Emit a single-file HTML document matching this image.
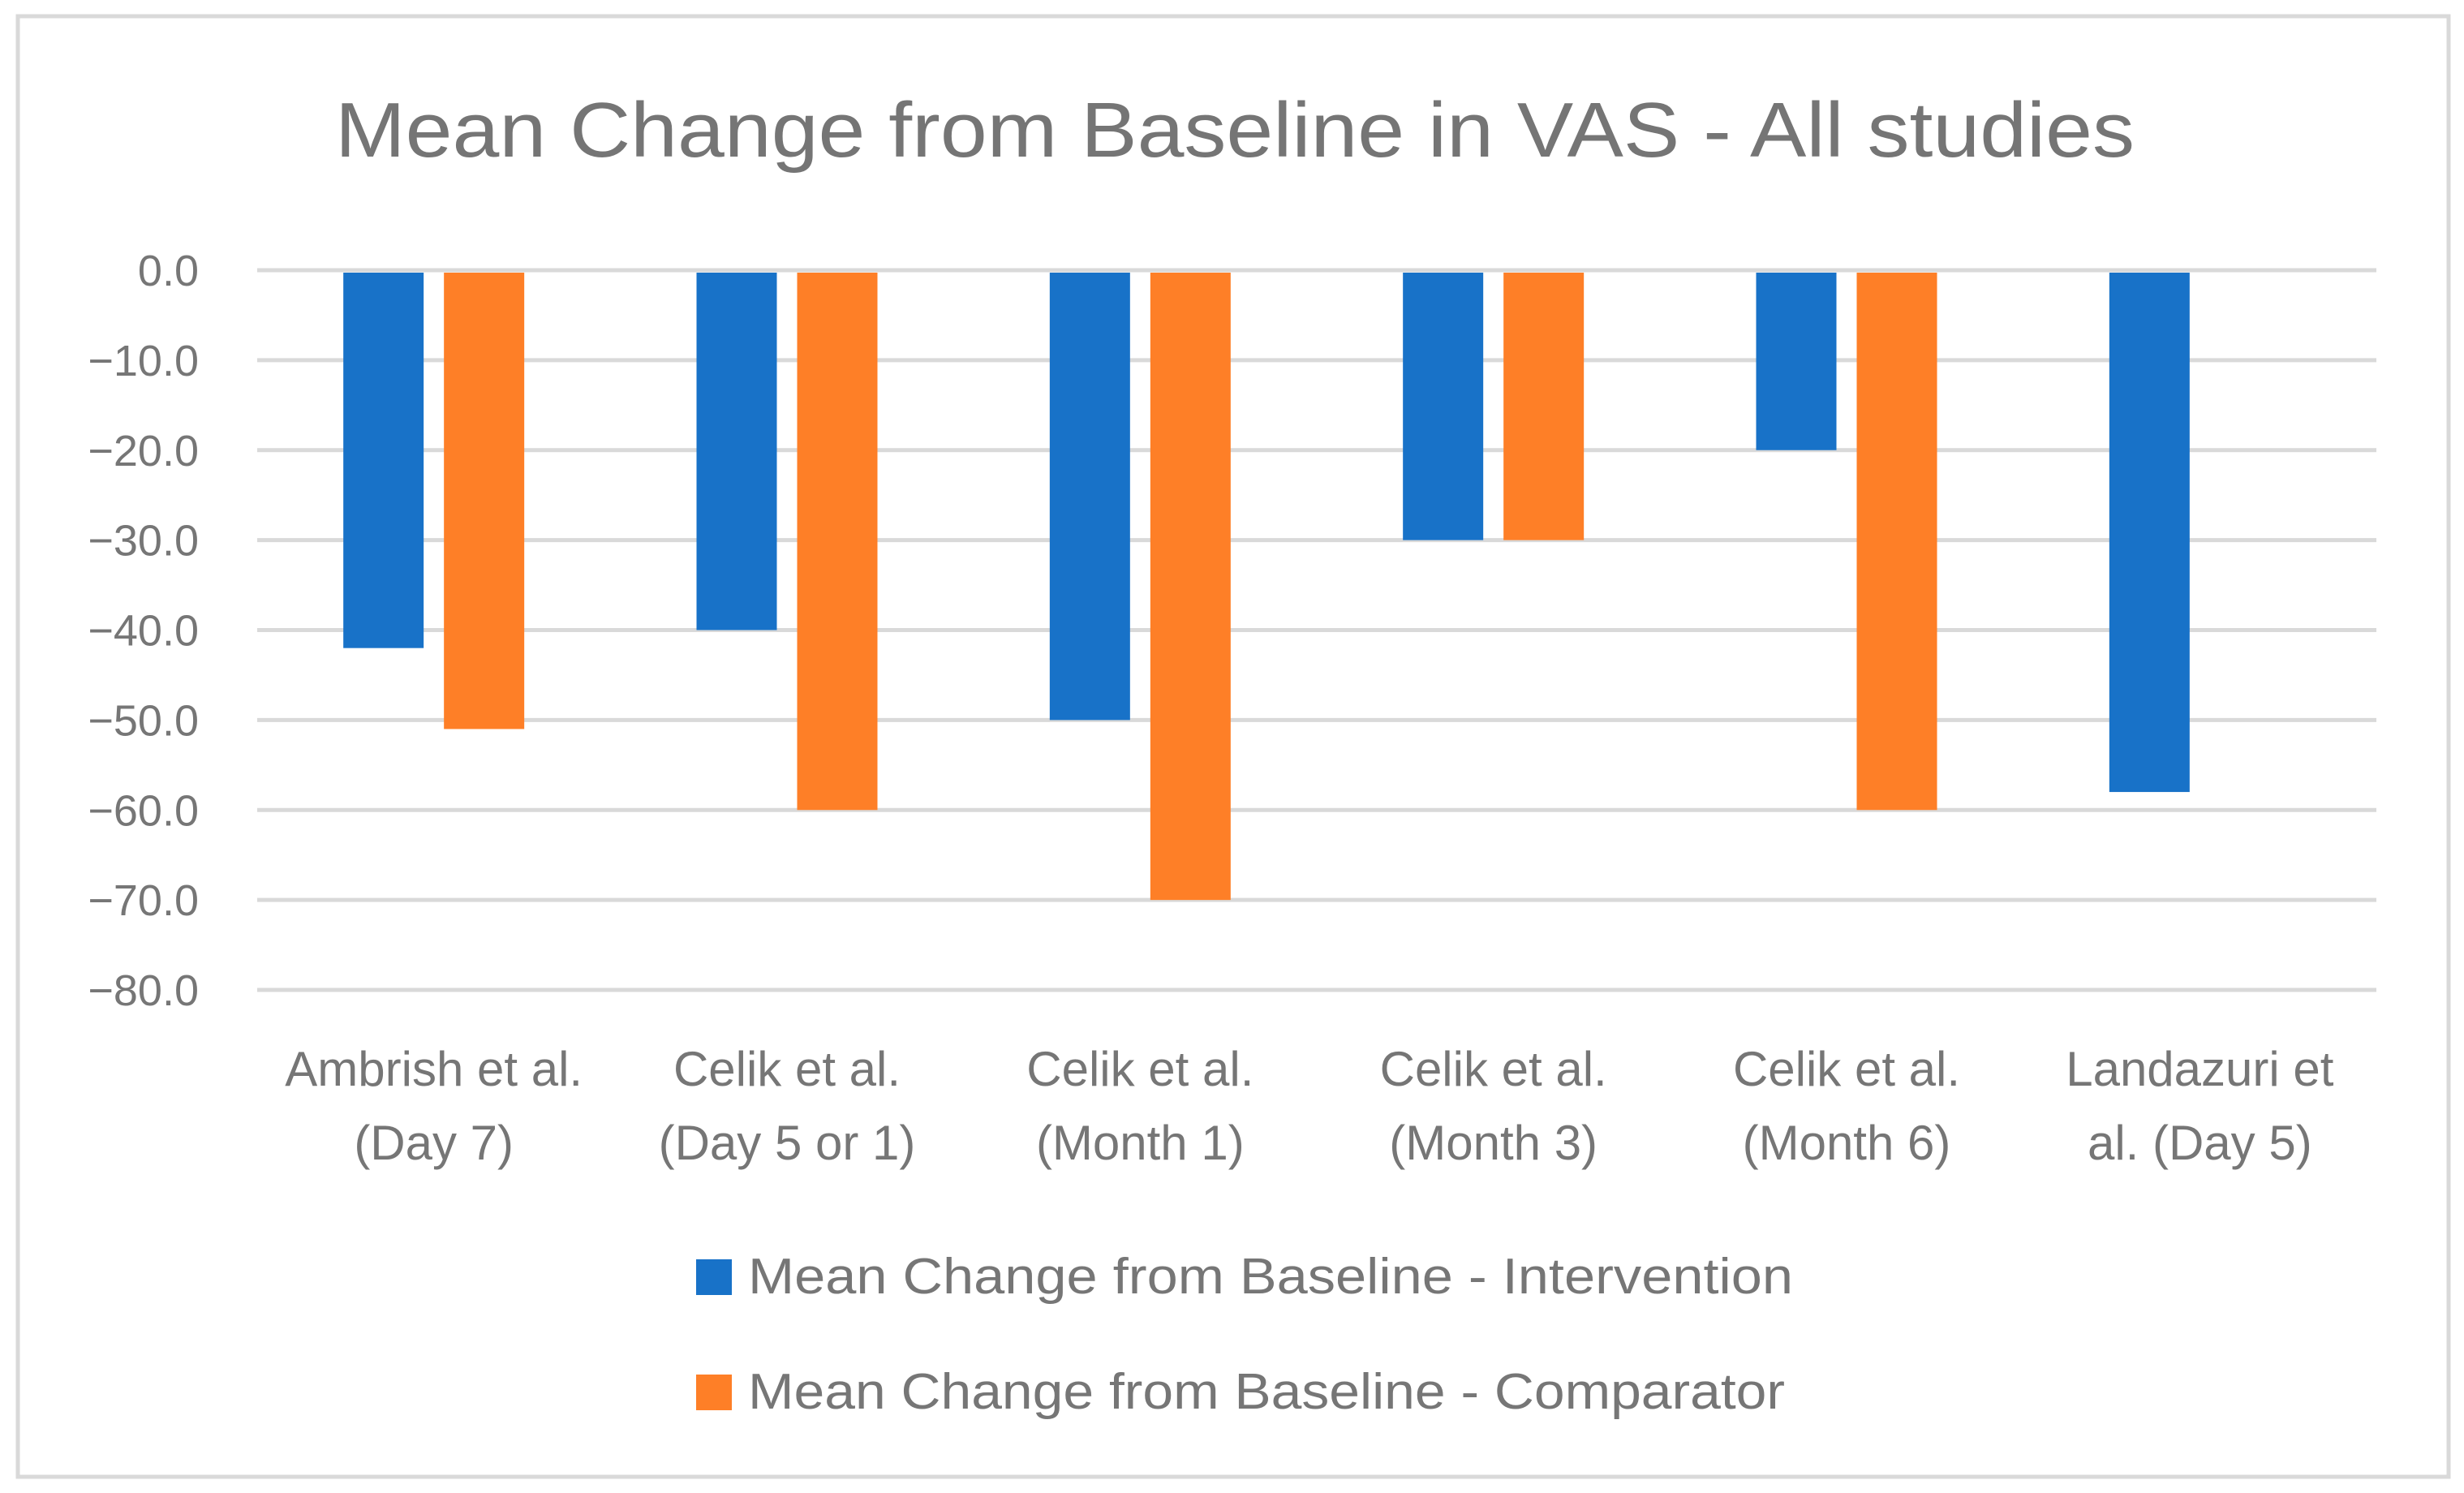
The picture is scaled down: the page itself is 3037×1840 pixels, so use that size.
<!DOCTYPE html>
<html><head><meta charset="utf-8"><style>
html,body{margin:0;padding:0;background:#fff}
svg{display:block;font-family:"Liberation Sans",sans-serif}
</style></head><body>
<svg id="chart" width="3037" height="1840" viewBox="0 0 3037 1840" xmlns="http://www.w3.org/2000/svg">
<rect x="22" y="20" width="2996" height="1800" fill="#fff" stroke="#d9d9d9" stroke-width="5"/>
<text x="1522" y="193" text-anchor="middle" font-size="96" fill="#757575" textLength="2218" lengthAdjust="spacingAndGlyphs">Mean Change from Baseline in VAS - All studies</text>
<g id="grid"></g><g id="bars"></g><g id="labels"></g>
<g>
<rect x="858" y="1552" width="44" height="44" fill="#1872c8"/>
<text x="922" y="1594" font-size="62" fill="#767676" textLength="1288" lengthAdjust="spacingAndGlyphs">Mean Change from Baseline - Intervention</text>
<rect x="858" y="1694" width="44" height="44" fill="#fe7f27"/>
<text x="922" y="1736" font-size="62" fill="#767676" textLength="1278" lengthAdjust="spacingAndGlyphs">Mean Change from Baseline - Comparator</text>
</g>
</svg>
<script>
const categoriesLine1 = ["Ambrish et al.","Celik et al.","Celik et al.","Celik et al.","Celik et al.","Landazuri et"];
const categoriesLine2 = ["(Day 7)","(Day 5 or 1)","(Month 1)","(Month 3)","(Month 6)","al. (Day 5)"];
const intervention = [-42,-40,-50,-30,-20,-58];
const comparator = [-51,-60,-70,-30,-60,null];
const yTicks = [0,-10,-20,-30,-40,-50,-60,-70,-80];

const NS="http://www.w3.org/2000/svg";
const plotL=317, plotR=2929, y0px=333, y80px=1220;
const yScale=v=>y0px+(v/-80)*(y80px-y0px);
const catW=(plotR-plotL)/categoriesLine1.length;
const xCenter=i=>plotL+catW*(i+0.5);
function mk(tag,attrs,parent){const e=document.createElementNS(NS,tag);for(const k in attrs)e.setAttribute(k,attrs[k]);parent.appendChild(e);return e;}
const grid=document.getElementById('grid'),bars=document.getElementById('bars'),labels=document.getElementById('labels');
yTicks.forEach(t=>{
  const y=yScale(t);
  const l=mk('line',{x1:plotL,x2:plotR,y1:y,y2:y,stroke:'#d9d9d9','stroke-width':5},grid);
  
  
  const tx=mk('text',{x:245,y:y+19,'text-anchor':'end','font-size':54,fill:'#767676'},grid);
  tx.textContent=(t===0?'0.0':'\u2212'+Math.abs(t).toFixed(1));
  
  
});
const bw=99;
function bar(v,x,color,name){
  if(v===null)return;
  const yA=yScale(0)+3,yB=yScale(v);
  const r=mk('rect',{x:x-bw/2,y:Math.min(yA,yB),width:bw,height:Math.abs(yB-yA),fill:color},bars);
  
  
}
categoriesLine1.forEach((c,i)=>{
  const cx=xCenter(i);
  bar(intervention[i],cx-62,'#1872c8','bar-intervention');
  bar(comparator[i],cx+62,'#fe7f27','bar-comparator');
  const t1=mk('text',{x:cx,y:1338,'text-anchor':'middle','font-size':60,fill:'#767676'},labels);
  t1.textContent=c;
  
  
  const t2=mk('text',{x:cx,y:1429,'text-anchor':'middle','font-size':60,fill:'#767676'},labels);
  t2.textContent=categoriesLine2[i];
  
  
});
</script>
</body></html>
